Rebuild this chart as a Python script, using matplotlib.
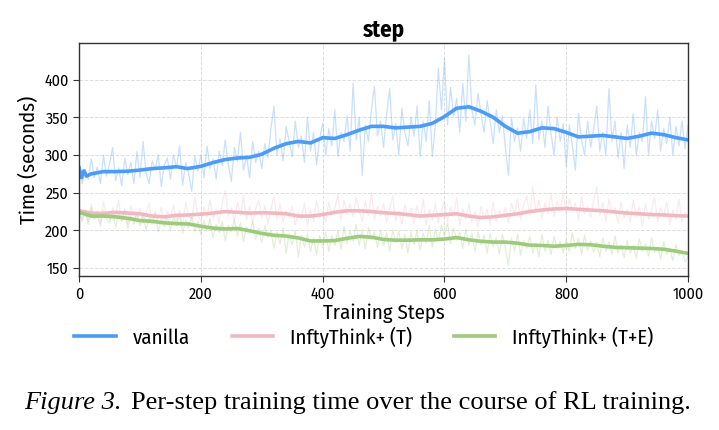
import numpy as np
import matplotlib
matplotlib.use("Agg")
import matplotlib.pyplot as plt
from matplotlib import font_manager as fm


# smoothed curves (step, value)
VANILLA_STEPS = [0, 4, 8, 12, 20, 40, 60, 80, 100, 120, 140, 160, 178, 200, 220, 240, 260, 280, 300,
                 320, 340, 360, 380, 400, 420, 440, 460, 480, 500, 520, 540, 560, 580, 600, 620, 640,
                 660, 680, 700, 720, 740, 760, 780, 800, 820, 840, 860, 880, 900, 920, 940, 960, 980, 1000]
VANILLA_SMOOTH = [283, 270, 279, 272, 275, 278, 278, 278.5, 280, 282, 283, 284.5, 282, 285, 290, 294, 296,
                  297, 301, 309, 315, 318, 316, 323, 322, 327, 333, 338, 338, 336, 337, 338, 342, 351, 362,
                  364, 358, 350, 338, 329, 331, 336, 335, 330, 324, 325, 326, 324, 322, 325, 329, 327, 323, 320]

SMOOTH_STEPS = [0, 20, 40, 60, 80, 100, 120, 140, 160, 180, 200, 220, 240, 260, 280, 300, 320, 340, 360,
                380, 400, 420, 440, 460, 480, 500, 520, 540, 560, 580, 600, 620, 640, 660, 680, 700, 720,
                740, 760, 780, 800, 820, 840, 860, 880, 900, 920, 940, 960, 980, 1000]
T_SMOOTH = [226, 223, 222.5, 224, 223, 222, 219, 218, 220, 220.5, 221.5, 223, 225, 224, 223, 223.5, 223,
            222, 219, 219, 221, 224, 226, 226, 225, 223.5, 222.5, 221, 219, 220, 221, 222, 219, 217, 218,
            220, 222, 225, 227, 228.5, 229, 228, 227, 226, 224.5, 223, 222, 221, 220.5, 219.5, 219]
TE_SMOOTH = [224, 219, 219, 218, 216, 213, 212, 210, 209, 208.5, 205.5, 203, 202, 202.5, 199.5, 196, 193.5,
             192.5, 190, 186, 186, 186.5, 189.5, 192, 191, 188, 187, 187, 187.5, 187.5, 188.5, 190.5, 187.5,
             185.5, 184.5, 184.5, 183, 180.5, 180, 179, 180, 181.5, 181, 179, 177.5, 177, 176.5, 176, 175,
             172.5, 169.5]

# raw per-step times, sampled every 5 steps
RAW_STEPS = list(range(0, 1001, 5))
VANILLA_RAW = [
    290, 262, 281, 268, 295, 270, 284, 262, 300, 272,
    288, 310, 266, 283, 259, 296, 274, 290, 262, 305,
    270, 318, 276, 262, 292, 281, 300, 258, 287, 296,
    268, 300, 283, 312, 260, 290, 275, 252, 298, 279,
    300, 270, 312, 282, 295, 268, 305, 286, 320, 288,
    265, 310, 292, 330, 280, 298, 270, 318, 290, 305,
    282, 315, 296, 335, 365, 300, 322, 292, 338, 318,
    298, 345, 310, 325, 290, 350, 305, 330, 287, 322,
    342, 300, 335, 312, 360, 298, 330, 318, 352, 305,
    395, 320, 350, 273, 340, 318, 360, 391, 325, 345,
    310, 355, 388, 320, 342, 300, 362, 330, 312, 350,
    325, 365, 298, 345, 318, 372, 298, 340, 415, 360,
    428, 340, 390, 352, 375, 330, 395, 345, 433, 360,
    340, 382, 355, 330, 372, 345, 315, 360, 330, 352,
    310, 273, 350, 318, 336, 305, 348, 322, 360, 315,
    393, 320, 345, 310, 365, 328, 300, 350, 318, 342,
    285, 340, 312, 280, 355, 320, 300, 345, 310, 335,
    365, 305, 330, 300, 388, 318, 345, 296, 330, 282,
    340, 310, 355, 300, 330, 318, 377, 300, 345, 322,
    360, 305, 335, 315, 350, 300, 338, 312, 345, 308,
    340,
]
T_RAW = [
    232, 215, 228, 212, 235, 218, 226, 210, 238, 220,
    214, 230, 219, 240, 212, 227, 208, 233, 221, 215,
    229, 210, 224, 236, 207, 222, 214, 231, 209, 225,
    216, 234, 211, 227, 205, 238, 219, 213, 244, 220,
    212, 231, 218, 240, 215, 228, 209, 236, 253, 219,
    230, 212, 238, 220, 246, 214, 232, 210, 228, 240,
    216, 233, 209, 229, 245, 214, 236, 211, 226, 218,
    232, 207, 224, 215, 236, 206, 228, 212, 240, 217,
    225, 211, 238, 219, 230, 247, 214, 240, 222, 235,
    218, 244, 226, 212, 238, 220, 250, 214, 232, 219,
    236, 210, 229, 245, 213, 226, 208, 234, 217, 230,
    209, 233, 215, 241, 207, 228, 214, 236, 210, 226,
    238, 212, 231, 219, 244, 206, 229, 215, 236, 211,
    225, 204, 232, 215, 228, 208, 238, 212, 226, 217,
    230, 210, 236, 221, 242, 214, 234, 246, 220, 258,
    224, 240, 216, 236, 222, 248, 218, 238, 225, 252,
    220, 242, 226, 236, 214, 245, 222, 232, 217, 240,
    258, 219, 237, 212, 242, 224, 230, 209, 238, 216,
    228, 210, 240, 218, 232, 206, 236, 215, 227, 244,
    212, 230, 219, 238, 208, 227, 214, 242, 211, 224,
    216,
]
TE_RAW = [
    228, 212, 225, 208, 230, 214, 222, 206, 227, 215,
    210, 226, 204, 222, 213, 228, 202, 219, 208, 224,
    206, 220, 201, 217, 210, 225, 198, 215, 204, 218,
    200, 218, 206, 222, 196, 214, 203, 220, 198, 212,
    194, 213, 199, 216, 190, 208, 197, 212, 186, 207,
    198, 214, 192, 210, 185, 205, 196, 212, 188, 203,
    184, 206, 191, 200, 176, 198, 182, 203, 170, 195,
    181, 200, 165, 194, 178, 196, 172, 190, 168, 193,
    177, 198, 172, 194, 180, 200, 175, 205, 183, 199,
    186, 208, 180, 201, 175, 204, 188, 198, 177, 200,
    180, 197, 172, 201, 184, 199, 176, 195, 170, 198,
    181, 200, 174, 196, 183, 206, 178, 201, 186, 207,
    192, 210, 182, 203, 187, 198, 176, 202, 180, 196,
    172, 198, 181, 194, 170, 196, 178, 191, 168, 195,
    176, 154, 190, 172, 195, 167, 186, 176, 192, 170,
    183, 165, 195, 172, 187, 168, 192, 176, 185, 170,
    188, 172, 197, 176, 190, 168, 194, 174, 186, 171,
    184, 165, 190, 172, 185, 168, 193, 170, 181, 164,
    186, 170, 180, 163, 189, 172, 182, 166, 190, 171,
    178, 162, 185, 168, 176, 160, 181, 167, 172, 158,
    165,
]

LABELS = ["vanilla", "InftyThink+ (T)", "InftyThink+ (T+E)"]
COLORS = ["#4B9BFA", "#F2B8C1", "#9CCB7B"]


def pick_font(candidates, fallback):
    names = {f.name for f in fm.fontManager.ttflist}
    for name in candidates:
        if name in names:
            return name
    return fallback


def main():
    sans = pick_font(["Fira Sans Condensed", "Fira Sans", "Roboto Condensed", "Liberation Sans Narrow",
                      "Open Sans Condensed", "Lato"], "DejaVu Sans")
    plt.rcParams["font.family"] = [sans, "DejaVu Sans"]

    fig = plt.figure(figsize=(7.19, 4.30), dpi=100)
    ax = fig.add_axes([0.110, 0.359, 0.847, 0.540])

    raws = [VANILLA_RAW, T_RAW, TE_RAW]
    smooths = [(VANILLA_STEPS, VANILLA_SMOOTH), (SMOOTH_STEPS, T_SMOOTH), (SMOOTH_STEPS, TE_SMOOTH)]

    for raw, color in zip(raws, COLORS):
        ax.plot(RAW_STEPS, raw, color=color, lw=0.9, alpha=0.3)
    for (steps, vals), color, label in zip(smooths, COLORS, LABELS):
        ax.plot(steps, vals, color=color, lw=2.6, label=label)

    ax.set_xlim(0, 1000)
    ax.set_ylim(140, 448)
    ax.set_xticks([0, 200, 400, 600, 800, 1000])
    ax.set_yticks([150, 200, 250, 300, 350, 400])
    ax.grid(True, ls="--", lw=0.7, color="#dddddd")
    ax.set_axisbelow(True)
    for spine in ax.spines.values():
        spine.set_color("#333333")
        spine.set_linewidth(1.0)
    ax.tick_params(labelsize=11.5, length=4, color="#333333")

    ax.set_title("step", fontsize=16.5, fontweight="bold", pad=5)
    ax.set_xlabel("Training Steps", fontsize=15, labelpad=1)
    ax.set_ylabel("Time (seconds)", fontsize=15, labelpad=4)

    fig.legend(loc="center", bbox_to_anchor=(0.506, 0.216), ncol=3, frameon=False,
               fontsize=15, handlelength=2.0, columnspacing=2.0, handletextpad=0.8)

    fig.text(0.033, 0.05, "Figure 3.", fontsize=19, style="italic", family="Liberation Serif")
    fig.text(0.182, 0.05, "Per-step training time over the course of RL training.", fontsize=19,
             family="Liberation Serif")

    fig.savefig("out.png", dpi=100)


if __name__ == "__main__":
    main()
